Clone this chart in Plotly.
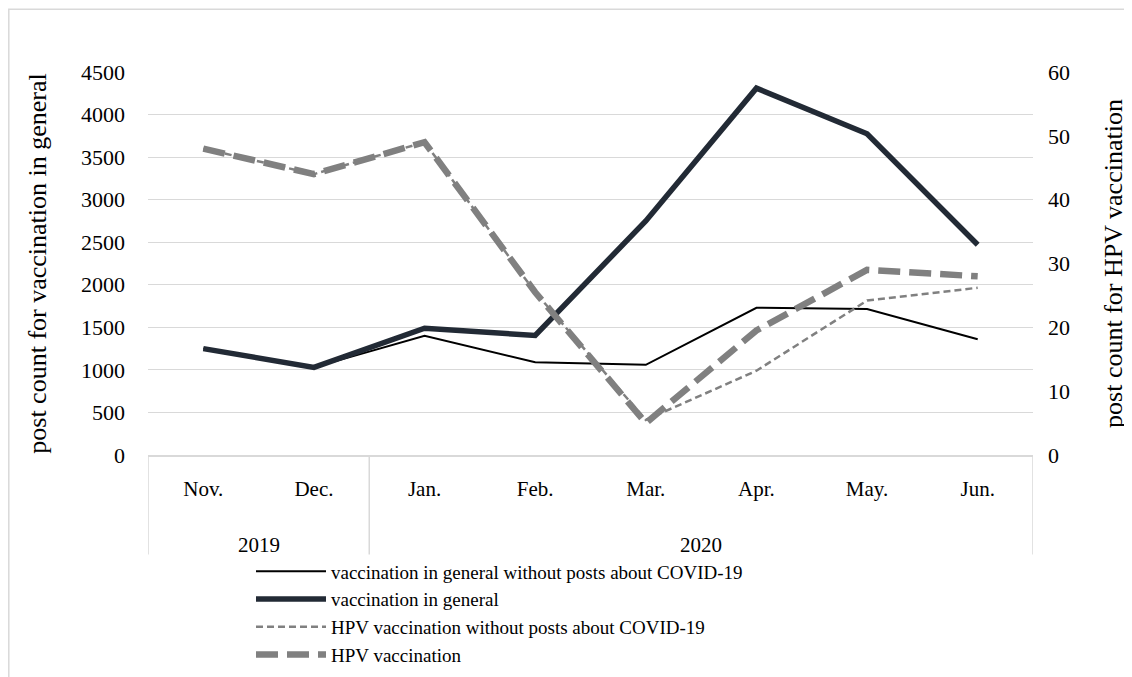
import plotly.graph_objects as go

months = ["Nov.", "Dec.", "Jan.", "Feb.", "Mar.", "Apr.", "May.", "Jun."]
year_labels = ["2019", "2020"]
year_centers = [0.5, 4.5]          # category-index centres of each year group
year_bounds = [-0.5, 1.5, 7.5]     # group boundaries (category index)

vacc_general_no_covid = [1250, 1030, 1400, 1090, 1060, 1730, 1715, 1360]
vacc_general = [1250, 1030, 1490, 1405, 2750, 4310, 3775, 2470]
hpv_no_covid = [48, 44, 49, 25.5, 5.5, 13.2, 24.2, 26.2]
hpv = [48, 44, 49, 25.5, 5, 19.5, 29, 28]

left_ticks = [0, 500, 1000, 1500, 2000, 2500, 3000, 3500, 4000, 4500]
right_ticks = [0, 10, 20, 30, 40, 50, 60]

FONT = "Liberation Serif"
GRID = "#d9d9d9"

# layout in figure pixels (page is offset by the 8px body margin)
L, R, T, B = 140, 1025, 64, 449
PW, PH = R - L, B - T

fig = go.Figure()
fig.add_trace(go.Scatter(x=months, y=vacc_general_no_covid, mode="lines",
                         name="vaccination in general without posts about COVID-19",
                         line=dict(color="#000000", width=2)))
fig.add_trace(go.Scatter(x=months, y=vacc_general, mode="lines",
                         name="vaccination in general",
                         line=dict(color="#222a35", width=5.5)))
fig.add_trace(go.Scatter(x=months, y=hpv_no_covid, mode="lines", yaxis="y2",
                         name="HPV vaccination without posts about COVID-19",
                         line=dict(color="#808080", width=2.5, dash="7px,4px")))
fig.add_trace(go.Scatter(x=months, y=hpv, mode="lines", yaxis="y2",
                         name="HPV vaccination",
                         line=dict(color="#808080", width=6.5, dash="22px,9px")))

shapes = [dict(type="rect", xref="paper", yref="paper",
               x0=(0.8 - L) / PW, x1=(1160 - L) / PW,
               y0=-1.0, y1=(B - 1) / PH,
               line=dict(color=GRID, width=1.5), layer="below")]
for b in year_bounds:
    shapes.append(dict(type="line", xref="x", yref="paper", x0=b, x1=b,
                       y0=0, y1=-100 / PH,
                       line=dict(color=GRID, width=1.5)))

annotations = [dict(text=t, x=c, xref="x", y=-90 / PH, yref="paper",
                    showarrow=False, yanchor="middle",
                    font=dict(family=FONT, size=21, color="#000000"))
               for t, c in zip(year_labels, year_centers)]

fig.update_layout(
    width=1132, height=677,
    margin=dict(l=L, r=1132 - R, t=T, b=677 - B),
    paper_bgcolor="white", plot_bgcolor="white",
    font=dict(family=FONT, size=21, color="#000000"),
    showlegend=True,
    legend=dict(orientation="v", x=(243 - L) / PW, y=-(547 - B) / PH,
                xanchor="left", yanchor="top",
                font=dict(family=FONT, size=19), itemwidth=70,
                tracegroupgap=0, bgcolor="rgba(0,0,0,0)"),
    xaxis=dict(type="category", range=[-0.5, 7.5], showgrid=False, showline=True,
               linecolor=GRID, linewidth=1.5, ticks="", automargin=False,
               tickangle=0,
               ticklabelstandoff=14, tickfont=dict(family=FONT, size=21)),
    yaxis=dict(range=[0, 4500], tickvals=left_ticks, showgrid=True,
               gridcolor=GRID, gridwidth=1, zeroline=False, automargin=False,
               ticklabelstandoff=22,
               title=dict(text="post count for vaccination in general",
                          font=dict(family=FONT, size=26), standoff=26),
               tickfont=dict(family=FONT, size=22), ticks=""),
    yaxis2=dict(range=[0, 60], tickvals=right_ticks, overlaying="y", side="right",
                showgrid=False, zeroline=False, automargin=False,
                ticklabelstandoff=14,
                title=dict(text="post count for HPV vaccination",
                           font=dict(family=FONT, size=26), standoff=34),
                tickfont=dict(family=FONT, size=22)),
    shapes=shapes,
    annotations=annotations,
)

fig.write_html("out.html")
